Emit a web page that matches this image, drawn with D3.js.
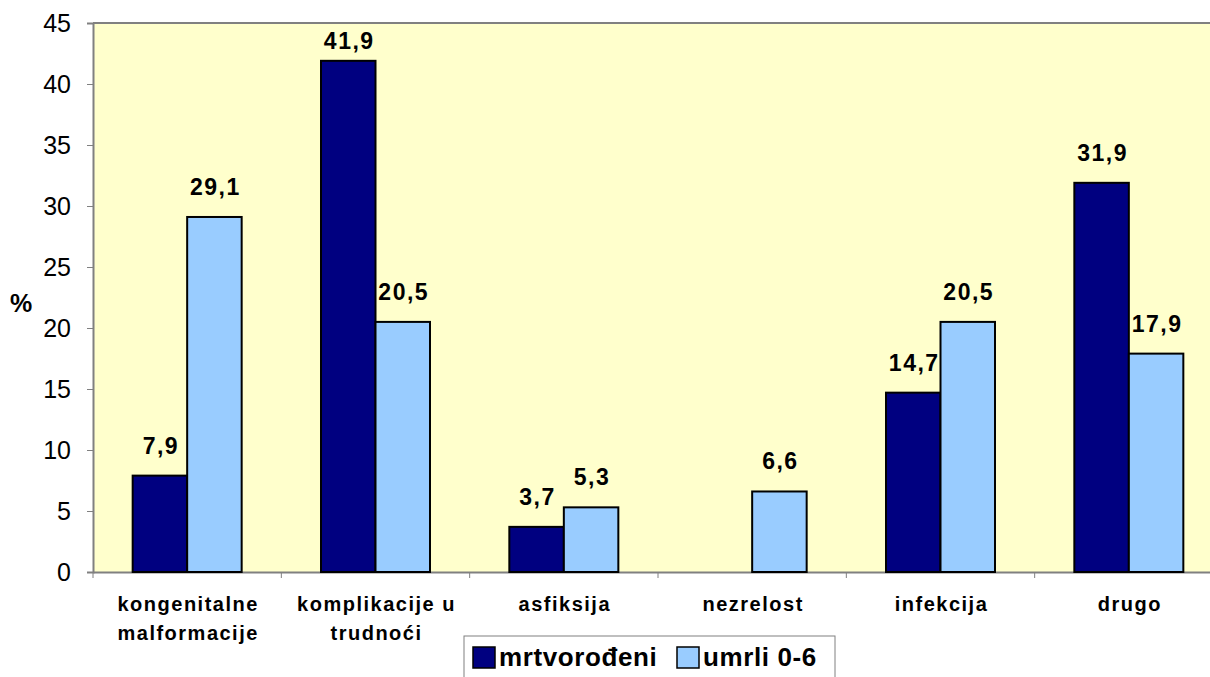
<!DOCTYPE html>
<html><head><meta charset="utf-8">
<script src="https://cdn.jsdelivr.net/npm/d3@7/dist/d3.min.js"></script>
<style>body{margin:0;background:#fff}svg{display:block}</style>
</head><body>
<svg id="c" width="1210" height="677"></svg>
<script>
const categories = [["kongenitalne","malformacije"],["komplikacije u","trudnoći"],["asfiksija"],["nezrelost"],["infekcija"],["drugo"]];
const seriesNames = ["mrtvorođeni","umrli 0-6"];
const mrtvorodeni = [7.9, 41.9, 3.7, null, 14.7, 31.9];
const umrli = [29.1, 20.5, 5.3, 6.6, 20.5, 17.9];
const yTicks = [0,5,10,15,20,25,30,35,40,45];
const colors = ["#000080","#99CCFF"];

(function(){
const svg = d3.select("#c");
const FONT = "Liberation Sans, Arial, sans-serif";
const pL = 93, pR = 1223, pT = 23, pB = 572;
const x = d3.scaleBand().domain(d3.range(categories.length)).range([pL, pR]);
const y = d3.scaleLinear().domain([0,45]).range([pB, pT]);
const bw = 54.5;

svg.append("rect").attr("x",pL).attr("y",pT).attr("width",pR-pL).attr("height",pB-pT).attr("fill","#FFFFCC");
svg.append("line").attr("x1",pL).attr("x2",pR).attr("y1",pT).attr("y2",pT).attr("stroke","#808080").attr("stroke-width",2);

const ya = svg.append("g").attr("transform",`translate(${pL},0)`).call(d3.axisLeft(y).tickValues(yTicks).tickSize(6).tickPadding(16));
ya.select(".domain").attr("stroke","#808080").attr("stroke-width",2);
ya.selectAll(".tick line").attr("stroke","#808080");
ya.selectAll("text").attr("font-family",FONT).attr("font-size",25).attr("fill","#000");

const xa = svg.append("g").attr("transform",`translate(0,${pB})`).call(d3.axisBottom(x).tickSize(0).tickFormat(""));
xa.select(".domain").attr("stroke","#808080").attr("stroke-width",2);
svg.selectAll(".xt").data(d3.range(categories.length)).enter().append("line")
  .attr("x1",d=>x(d)).attr("x2",d=>x(d)).attr("y1",pB).attr("y2",pB+6).attr("stroke","#808080");

const series = [mrtvorodeni, umrli];
series.forEach((vals,si)=>{
  const g = svg.append("g");
  vals.forEach((v,i)=>{
    if(v==null) return;
    const cx = x(i)+x.bandwidth()/2;
    const bx = cx - bw + si*bw;
    g.append("rect").attr("x",bx).attr("y",y(v)).attr("width",bw).attr("height",y(0)-y(v))
      .attr("fill",colors[si]).attr("stroke","#000").attr("stroke-width",2);
    g.append("text").attr("x",bx+bw/2+1).attr("y",Math.max(y(v)-22, pT+26)).attr("text-anchor","middle")
      .attr("font-family",FONT).attr("font-weight","bold").attr("font-size",23).attr("letter-spacing",1.5)
      .text(String(v).replace(".",","));
  });
});

categories.forEach((lines,i)=>{
  const cx = x(i)+x.bandwidth()/2;
  lines.forEach((t,li)=>{
    svg.append("text").attr("x",cx+1).attr("y",611+li*29).attr("text-anchor","middle")
      .attr("font-family",FONT).attr("font-weight","bold").attr("font-size",20)
      .attr("letter-spacing",1.5).text(t);
  });
});

svg.append("text").attr("x",21).attr("y",312).attr("text-anchor","middle")
  .attr("font-family",FONT).attr("font-weight","bold").attr("font-size",25).text("%");

const lg = svg.append("g");
lg.append("rect").attr("x",464).attr("y",636).attr("width",371).attr("height",50).attr("fill","#fff").attr("stroke","#808080");
const lx = [473, 677];
seriesNames.forEach((n,i)=>{
  lg.append("rect").attr("x",lx[i]).attr("y",647).attr("width",22).attr("height",21).attr("fill",colors[i]).attr("stroke","#000").attr("stroke-width",1.5);
  lg.append("text").attr("x",lx[i]+26).attr("y",666).attr("font-family",FONT)
    .attr("font-weight","bold").attr("font-size",26).attr("letter-spacing",0.6).text(n);
});
})();
</script>
</body></html>
